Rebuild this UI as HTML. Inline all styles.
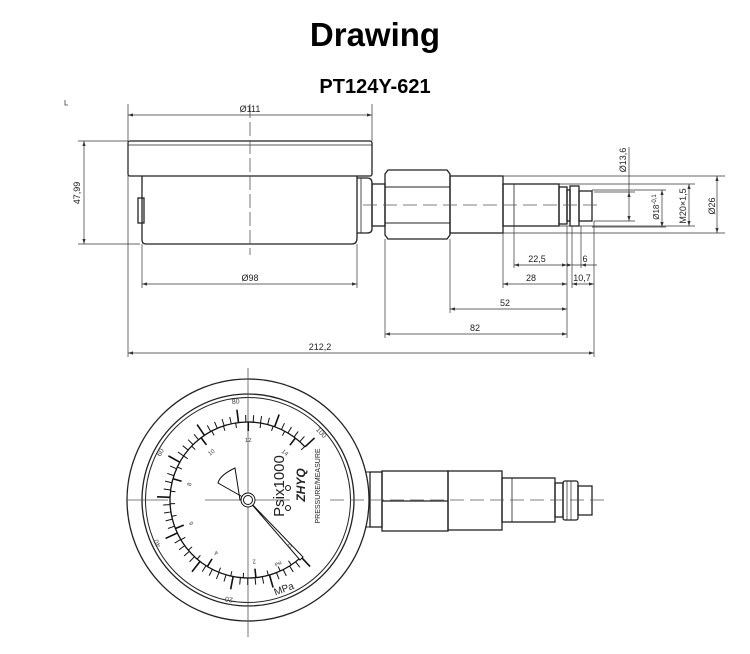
<!DOCTYPE html>
<html><head><meta charset="utf-8"><style>
body{margin:0;background:#fff;width:750px;height:654px;overflow:hidden}
svg{display:block}
text{font-family:"Liberation Sans",sans-serif}
</style></head><body>
<svg id="s" width="750" height="654" viewBox="0 0 750 654">
<text x="375" y="46" text-anchor="middle" font-size="33" font-weight="bold" fill="#000">Drawing</text>
<text x="375" y="93" text-anchor="middle" font-size="20" font-weight="bold" fill="#000">PT124Y-621</text>
<path d="M65 100v5h3" stroke="#444" fill="none" stroke-width="0.8"/>
<g fill="none" stroke="#222" stroke-width="1.3">
<rect x="128" y="141" width="244" height="35" rx="2"/>
<line x1="128" y1="145" x2="372" y2="145" stroke-width="0.8"/>
<path d="M142 176V240Q142 244 146 244H352Q357 244 357 238V176"/>
<rect x="138" y="198" width="6" height="25"/>
<path d="M357 178H367Q372 178 372 183V229Q372 233 367 233H357"/>
<line x1="361" y1="178" x2="361" y2="233" stroke-width="0.8"/>
<rect x="372" y="184" width="13" height="42"/>
<path d="M388 170H447L450 174V235L447 239H388L385 235V174Z"/>
<path d="M385 187H450M385 223H450" stroke-width="1"/>
<rect x="450" y="176" width="53" height="57"/>
<rect x="503" y="184" width="56" height="42"/>
<line x1="514" y1="184" x2="514" y2="226" stroke-width="0.8"/>
<rect x="559" y="187" width="8" height="37"/>
<rect x="567" y="190" width="3" height="31"/>
<rect x="570" y="186" width="9" height="40"/>
<rect x="579" y="191" width="13" height="30"/>
<circle cx="248" cy="500" r="121"/>
<circle cx="248" cy="500" r="106"/>
<circle cx="248" cy="500" r="102.5" stroke-width="1"/>
<path d="M365 472H370V527H365" stroke-width="1"/>
<rect x="370" y="472" width="12" height="55"/>
<rect x="382" y="471" width="66" height="60"/>
<line x1="382" y1="501" x2="448" y2="501"/>
<rect x="448" y="471" width="54" height="59"/>
<rect x="502" y="478" width="53" height="44"/>
<line x1="512" y1="478" x2="512" y2="522" stroke-width="0.8"/>
<rect x="555" y="483" width="8" height="34"/>
<rect x="563" y="481" width="15" height="39" rx="2"/>
<path d="M567 481V520M571 481V520" stroke-width="0.7"/>
<rect x="578" y="486" width="14" height="29"/>
</g>
<g stroke="#555" stroke-width="0.8" fill="none">
<line x1="250" y1="104" x2="250" y2="255" stroke-dasharray="14,4"/>
<line x1="363" y1="205" x2="603" y2="205" stroke-dasharray="14,6"/>
<line x1="248" y1="368" x2="248" y2="637"/>
<line x1="127" y1="500" x2="168" y2="500"/>
<line x1="330" y1="500" x2="607" y2="500" stroke-dasharray="14,6"/>
<line x1="205" y1="500" x2="290" y2="500"/>
</g>
<g stroke="#333" stroke-width="0.7" fill="none">
<path d="M128 104V357M372 104V141M142 244V288M357 244V288M385 239V338M450 239V313M503 233V288M514 226V268M567 226V338M572 226V288M581 226V268M594 221V357"/>
<path d="M78 141H128M78 244H140"/>
<path d="M503 176H725M503 233H725M559 184H695M559 226H695M592 190H666M592 227H666M594 192H635M594 221H635"/>
<path d="M128 115H372M84 141V244M142 284H357M514 265H567M572 265H581M581 265H597M557 265H567M503 284H567M572 284H594M450 309H567M385 334H567M128 353H594M717 176V233M689 184V226M662 190V227M629 147V221"/>
</g>
<g fill="#333" id="arr"></g>
<g font-size="9" fill="#222">
<text x="250" y="112" text-anchor="middle">Ø111</text>
<text x="250" y="281" text-anchor="middle">Ø98</text>
<text x="537" y="262" text-anchor="middle">22,5</text>
<text x="585" y="262" text-anchor="middle">6</text>
<text x="531" y="281" text-anchor="middle">28</text>
<text x="582" y="281" text-anchor="middle">10,7</text>
<text x="505" y="306" text-anchor="middle">52</text>
<text x="475" y="331" text-anchor="middle">82</text>
<text x="320" y="350" text-anchor="middle">212,2</text>
<text transform="translate(80,193) rotate(-90)" text-anchor="middle">47,99</text>
<text transform="translate(626,160) rotate(-90)" text-anchor="middle">Ø13,6</text>
<text transform="translate(659,207) rotate(-90)" text-anchor="middle" font-size="8">Ø18<tspan font-size="6" dy="-3">-0,1</tspan></text>
<text transform="translate(686,206) rotate(-90)" text-anchor="middle">M20×1,5</text>
<text transform="translate(715,206) rotate(-90)" text-anchor="middle">Ø26</text>
</g>
<g id="dial" stroke="#111" fill="none" stroke-width="1"></g>
<g fill="#222">
<text transform="translate(284,486) rotate(-90)" text-anchor="middle" font-size="15">Psix1000</text>
<text transform="translate(305,485) rotate(-90)" text-anchor="middle" font-size="12" font-weight="bold" font-style="italic">ZHYQ</text>
<text transform="translate(320,486) rotate(-90)" text-anchor="middle" font-size="7">PRESSURE/MEASURE</text>
<text transform="translate(285,592) rotate(-20)" text-anchor="middle" font-size="10">MPa</text>
<text transform="translate(279,565) rotate(-30)" text-anchor="middle" font-size="5">Psi</text>
</g>
<g stroke="#111" stroke-width="1" fill="none">
<circle cx="288" cy="488" r="2.5"/><circle cx="288" cy="508" r="2.5"/>
<path d="M248 500L303 557L300 560Z" fill="#fff"/>
<path d="M248 500L218 483Q220 475 235 468L240 500Z" fill="#fff"/>
<circle cx="248" cy="500" r="7" fill="#fff"/>
<circle cx="248" cy="500" r="4.5"/>
</g>
</svg>
<script>
var ns="http://www.w3.org/2000/svg",d=document.getElementById("dial"),s=document.getElementById("s");
function L(g,x1,y1,x2,y2,w){var l=document.createElementNS(ns,"line");l.setAttribute("x1",x1);l.setAttribute("y1",y1);l.setAttribute("x2",x2);l.setAttribute("y2",y2);if(w)l.setAttribute("stroke-width",w);g.appendChild(l);}
function T(x,y,t,rot,fs){var e=document.createElementNS(ns,"text");e.setAttribute("x",x);e.setAttribute("y",y);e.setAttribute("font-size",fs);e.setAttribute("fill","#444");e.setAttribute("text-anchor","middle");e.setAttribute("transform","rotate("+rot+" "+x+" "+(y-2)+")");e.textContent=t;s.appendChild(e);}
var cx=248,cy=500,R=78;
var p=document.createElementNS(ns,"path");
function pt(a,r){var t=a*Math.PI/180;return [cx+r*Math.cos(t),cy+r*Math.sin(t)];}
var a0=pt(47,R),a1=pt(317,R);
p.setAttribute("d","M"+a0[0]+" "+a0[1]+"A"+R+" "+R+" 0 1 1 "+a1[0]+" "+a1[1]);p.setAttribute("stroke-width","1.3");d.appendChild(p);
for(var v=0;v<=100;v+=2){var a=47+v*2.7,maj=v%10==0,q=pt(a,R),r=pt(a,maj?91:85);L(d,q[0],q[1],r[0],r[1],maj?1.6:1);
 if(v%20==0&&v>0){var t=pt(a,100);T(t[0],t[1]+3,v,a+90,7);}}
for(var m=0;m<=14.5;m+=0.5){var a=47+m*18.6,maj=(m%2==0);var q=pt(a,R),r=pt(a,maj?69:73);L(d,q[0],q[1],r[0],r[1],maj?1.6:1);
 if(maj){var t=pt(a,61);T(t[0],t[1]+3,m,a+90,6);}}
var ag=document.getElementById("arr");
function A(x,y,dir){var e=document.createElementNS(ns,"path");var k=5,w=1.6,dd;
 if(dir=="l")dd="M"+x+" "+y+"l"+k+" "+(-w)+"v"+(2*w)+"z";
 if(dir=="r")dd="M"+x+" "+y+"l"+(-k)+" "+(-w)+"v"+(2*w)+"z";
 if(dir=="u")dd="M"+x+" "+y+"l"+(-w)+" "+k+"h"+(2*w)+"z";
 if(dir=="d")dd="M"+x+" "+y+"l"+(-w)+" "+(-k)+"h"+(2*w)+"z";
 e.setAttribute("d",dd);ag.appendChild(e);}
[[128,372,115],[142,357,284],[514,567,265],[503,567,284],[572,594,284],[450,567,309],[385,567,334],[128,594,353]].forEach(function(a){A(a[0],a[2],"l");A(a[1],a[2],"r");});
A(572,265,"r");A(581,265,"l");
[[84,141,244],[717,176,233],[689,184,226],[662,190,227],[629,192,221]].forEach(function(a){A(a[0],a[1],"u");A(a[0],a[2],"d");});
</script>
</body></html>
